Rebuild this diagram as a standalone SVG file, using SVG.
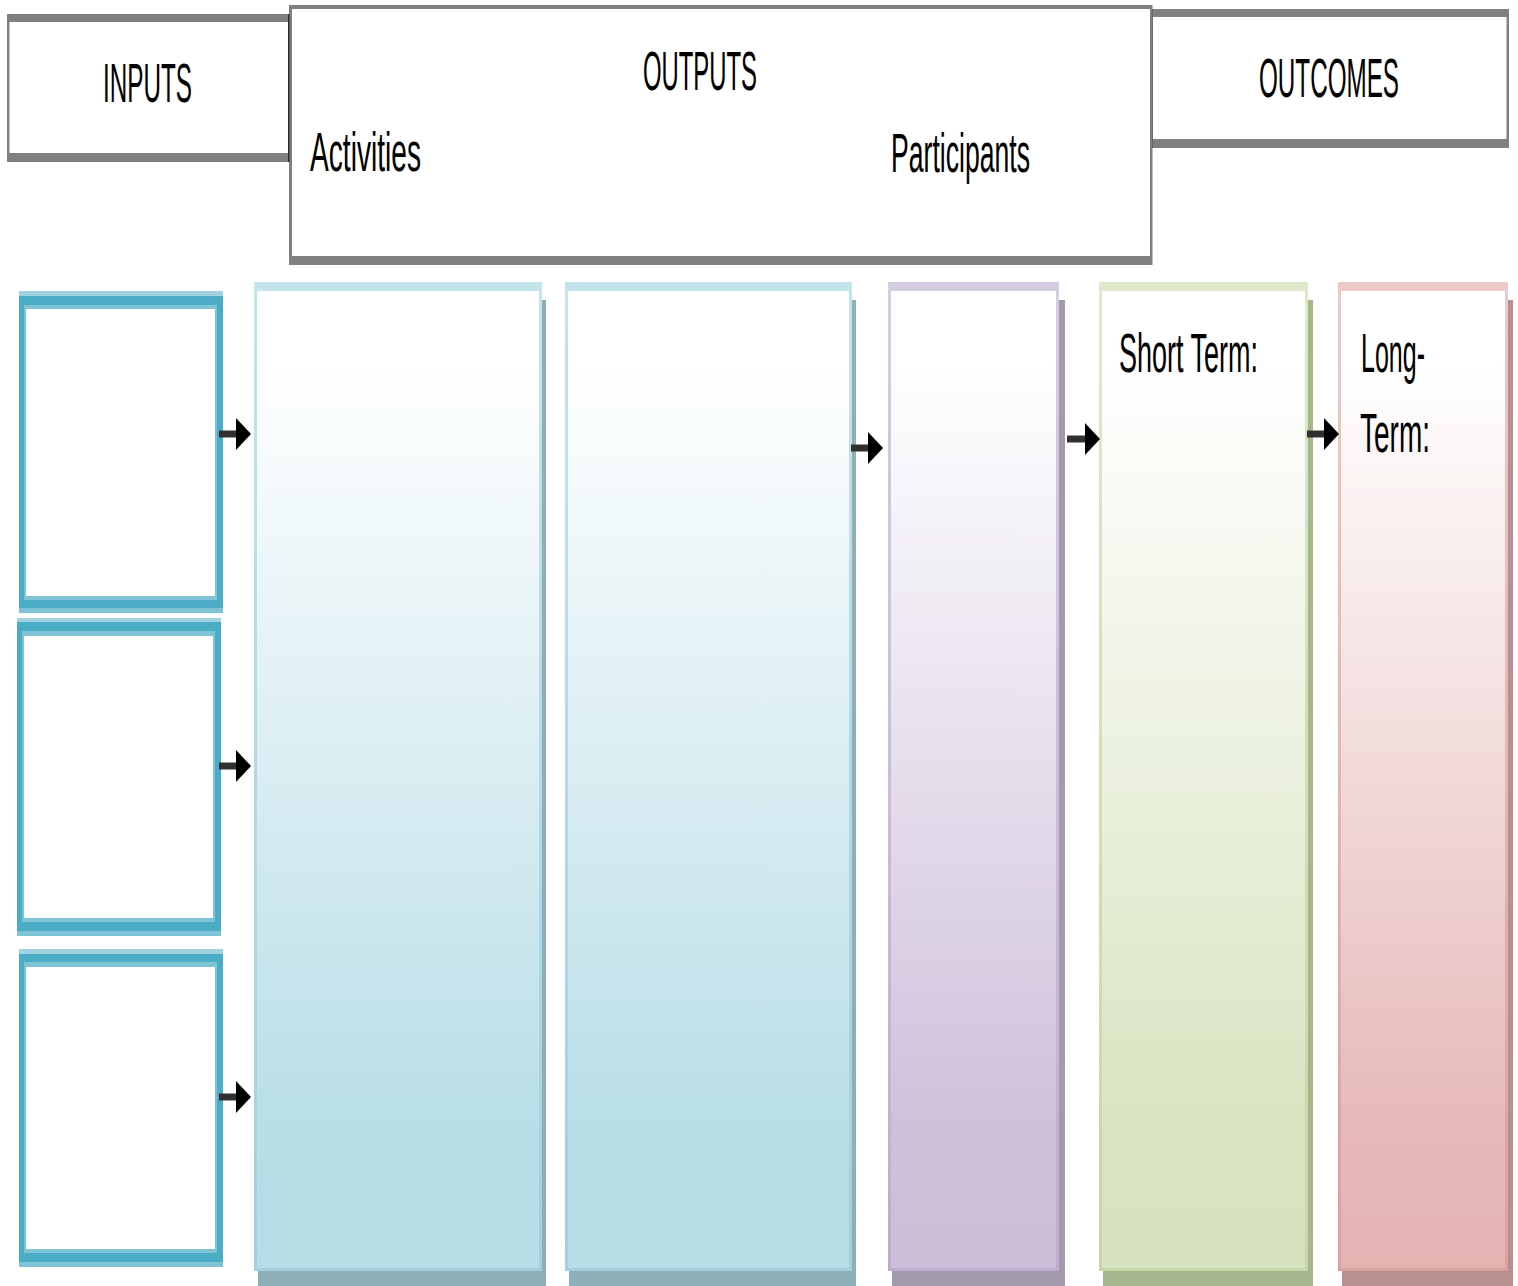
<svg xmlns="http://www.w3.org/2000/svg" width="1518" height="1286" viewBox="0 0 1518 1286">
<style>
  .lbl { font-family: "Liberation Sans", Arial, sans-serif; font-size: 56px; fill: #000; }
  .band { fill: #808080; }
  .hdr { fill: #ffffff; }
  .conn { stroke: #303030; stroke-width: 7; fill: none; marker-end: url(#ah); }
  .ib-dark { fill: #4bacc6; }
  .ib-lt1 { fill: #a0d2df; }
  .ib-lt2 { fill: #7ec4d6; }
  .ib-in { fill: #ffffff; }
</style>
<defs>
  <marker id="ah" viewBox="0 0 15 32" refX="0" refY="16" markerWidth="15" markerHeight="32" markerUnits="userSpaceOnUse" orient="auto">
    <path d="M0,0 L15,16 L0,32 Z" fill="#000"/>
  </marker>
  <linearGradient id="gBlue" x1="0" y1="0" x2="0" y2="1">
    <stop offset="0" stop-color="#ffffff"/>
    <stop offset="0.08" stop-color="#ffffff"/>
    <stop offset="0.85" stop-color="#b9dee7"/>
    <stop offset="1" stop-color="#b6dce5"/>
  </linearGradient>
  <linearGradient id="gPurple" x1="0" y1="0" x2="0" y2="1">
    <stop offset="0" stop-color="#ffffff"/>
    <stop offset="0.08" stop-color="#ffffff"/>
    <stop offset="0.85" stop-color="#cfc1db"/>
    <stop offset="1" stop-color="#ccbdd8"/>
  </linearGradient>
  <linearGradient id="gGreen" x1="0" y1="0" x2="0" y2="1">
    <stop offset="0" stop-color="#ffffff"/>
    <stop offset="0.08" stop-color="#ffffff"/>
    <stop offset="0.85" stop-color="#d9e4c1"/>
    <stop offset="1" stop-color="#d6e2bd"/>
  </linearGradient>
  <linearGradient id="gRed" x1="0" y1="0" x2="0" y2="1">
    <stop offset="0" stop-color="#ffffff"/>
    <stop offset="0.08" stop-color="#ffffff"/>
    <stop offset="0.85" stop-color="#e6bab9"/>
    <stop offset="1" stop-color="#e3b3b2"/>
  </linearGradient>
  <linearGradient id="sBlue" x1="0" y1="0" x2="0" y2="1">
    <stop offset="0" stop-color="#c4e4ec"/>
    <stop offset="1" stop-color="#a2d0dc"/>
  </linearGradient>
  <linearGradient id="sPurple" x1="0" y1="0" x2="0" y2="1">
    <stop offset="0" stop-color="#d5cde2"/>
    <stop offset="1" stop-color="#bcaed2"/>
  </linearGradient>
  <linearGradient id="sGreen" x1="0" y1="0" x2="0" y2="1">
    <stop offset="0" stop-color="#dde9c9"/>
    <stop offset="1" stop-color="#c6d7a8"/>
  </linearGradient>
  <linearGradient id="sRed" x1="0" y1="0" x2="0" y2="1">
    <stop offset="0" stop-color="#eccaca"/>
    <stop offset="1" stop-color="#dca1a1"/>
  </linearGradient>
</defs>

<rect x="0" y="0" width="1518" height="1286" fill="#ffffff"/>

<!-- Header: INPUTS -->
<g id="inputs-header">
  <rect class="hdr" x="7" y="14" width="283" height="148"/>
  <rect class="band" x="7" y="14" width="283" height="8"/>
  <rect class="band" x="7" y="153" width="283" height="9"/>
  <rect class="band" x="7" y="14" width="2.5" height="148"/>
  <text class="lbl" transform="translate(103,102) scale(0.433,1)" x="0" y="0" textLength="205.5" lengthAdjust="spacingAndGlyphs">INPUTS</text>
</g>

<!-- Header: OUTCOMES -->
<g id="outcomes-header">
  <rect class="hdr" x="1150" y="9" width="359" height="139"/>
  <rect class="band" x="1150" y="9" width="359" height="8"/>
  <rect class="band" x="1150" y="139" width="359" height="9"/>
  <rect x="1150" y="9" width="3" height="139" fill="#505050"/>
  <rect class="band" x="1506.5" y="13" width="2.5" height="135"/>
  <text class="lbl" transform="translate(1259,97) scale(0.433,1)" x="0" y="0" textLength="323.3" lengthAdjust="spacingAndGlyphs">OUTCOMES</text>
</g>

<!-- Header: OUTPUTS -->
<g id="outputs-header">
  <rect class="hdr" x="289" y="5" width="863" height="260"/>
  <rect class="band" x="289" y="5" width="863" height="4"/>
  <rect class="band" x="289" y="256" width="863" height="9"/>
  <rect class="band" x="289" y="5" width="3" height="260"/>
  <rect class="band" x="1150" y="5" width="2.5" height="260"/>
  <rect x="288" y="14" width="1.5" height="148" fill="#303030"/>
  <text class="lbl" transform="translate(643,90) scale(0.426,1)" x="0" y="0" textLength="267.6" lengthAdjust="spacingAndGlyphs">OUTPUTS</text>
  <text class="lbl" transform="translate(310,171) scale(0.502,1)" x="0" y="0" textLength="221.1" lengthAdjust="spacingAndGlyphs">Activities</text>
  <text class="lbl" transform="translate(891,172) scale(0.475,1)" x="0" y="0" textLength="292.6" lengthAdjust="spacingAndGlyphs">Participants</text>
</g>

<!-- Input boxes -->
<g id="input-box-1">
  <rect class="ib-dark" x="19" y="291" width="204" height="322"/>
  <rect class="ib-lt1" x="19" y="291" width="204" height="5"/>
  <rect class="ib-lt2" x="19" y="608" width="204" height="5"/>
  <rect class="ib-lt2" x="24" y="305" width="193" height="295"/>
  <rect class="ib-in" x="26" y="309" width="189" height="287"/>
</g>
<g id="input-box-2">
  <rect class="ib-dark" x="17" y="618" width="204" height="318"/>
  <rect class="ib-lt1" x="17" y="618" width="204" height="4"/>
  <rect class="ib-lt2" x="17" y="931" width="204" height="5"/>
  <rect class="ib-lt2" x="22" y="631" width="193" height="291"/>
  <rect class="ib-in" x="24" y="636" width="189" height="282"/>
</g>
<g id="input-box-3">
  <rect class="ib-dark" x="19" y="949" width="204" height="318"/>
  <rect class="ib-lt1" x="19" y="949" width="204" height="5"/>
  <rect class="ib-lt2" x="19" y="1262" width="204" height="5"/>
  <rect class="ib-lt2" x="24" y="962" width="193" height="291"/>
  <rect class="ib-in" x="26" y="967" width="189" height="282"/>
</g>

<!-- Columns -->
<g id="activities-column">
  <rect x="258" y="300" width="288" height="990" fill="#8eaeb8"/>
  <rect x="255.5" y="283.5" width="285" height="986" fill="url(#gBlue)" stroke="url(#sBlue)" stroke-width="3"/>
  <rect x="254" y="282" width="288" height="9" fill="#c4e4ec"/>
</g>
<g id="outputs-column">
  <rect x="569" y="300" width="287" height="990" fill="#8eaeb8"/>
  <rect x="566.5" y="283.5" width="284" height="986" fill="url(#gBlue)" stroke="url(#sBlue)" stroke-width="3"/>
  <rect x="565" y="282" width="287" height="9" fill="#c4e4ec"/>
</g>
<g id="participants-column">
  <rect x="892" y="300" width="173" height="990" fill="#a39aae"/>
  <rect x="889.5" y="283.5" width="168" height="986" fill="url(#gPurple)" stroke="url(#sPurple)" stroke-width="3"/>
  <rect x="888" y="282" width="171" height="9" fill="#d5cde2"/>
</g>
<g id="short-term-column">
  <rect x="1103" y="300" width="210" height="990" fill="#a8b68e"/>
  <rect x="1100.5" y="283.5" width="206" height="986" fill="url(#gGreen)" stroke="url(#sGreen)" stroke-width="3"/>
  <rect x="1099" y="282" width="209" height="9" fill="#dde9c9"/>
  <text class="lbl" transform="translate(1119,372) scale(0.470,1)" x="0" y="0" textLength="295.7" lengthAdjust="spacingAndGlyphs">Short Term:</text>
</g>
<g id="long-term-column">
  <rect x="1342" y="300" width="171" height="990" fill="#b98f8f"/>
  <rect x="1339.5" y="283.5" width="167" height="986" fill="url(#gRed)" stroke="url(#sRed)" stroke-width="3"/>
  <rect x="1338" y="282" width="170" height="9" fill="#eccaca"/>
  <text class="lbl" transform="translate(1361,372) scale(0.447,1)" x="0" y="0" textLength="143.2" lengthAdjust="spacingAndGlyphs">Long-</text>
  <text class="lbl" transform="translate(1360,452) scale(0.479,1)" x="0" y="0" textLength="146.1" lengthAdjust="spacingAndGlyphs">Term:</text>
</g>

<!-- Connectors -->
<g id="connectors">
  <path class="conn" d="M219 434 H236"/>
  <path class="conn" d="M219 766 H236"/>
  <path class="conn" d="M219 1097 H236"/>
  <path class="conn" d="M851 448 H868"/>
  <path class="conn" d="M1067 439 H1085"/>
  <path class="conn" d="M1307 434 H1324"/>
</g>
</svg>
